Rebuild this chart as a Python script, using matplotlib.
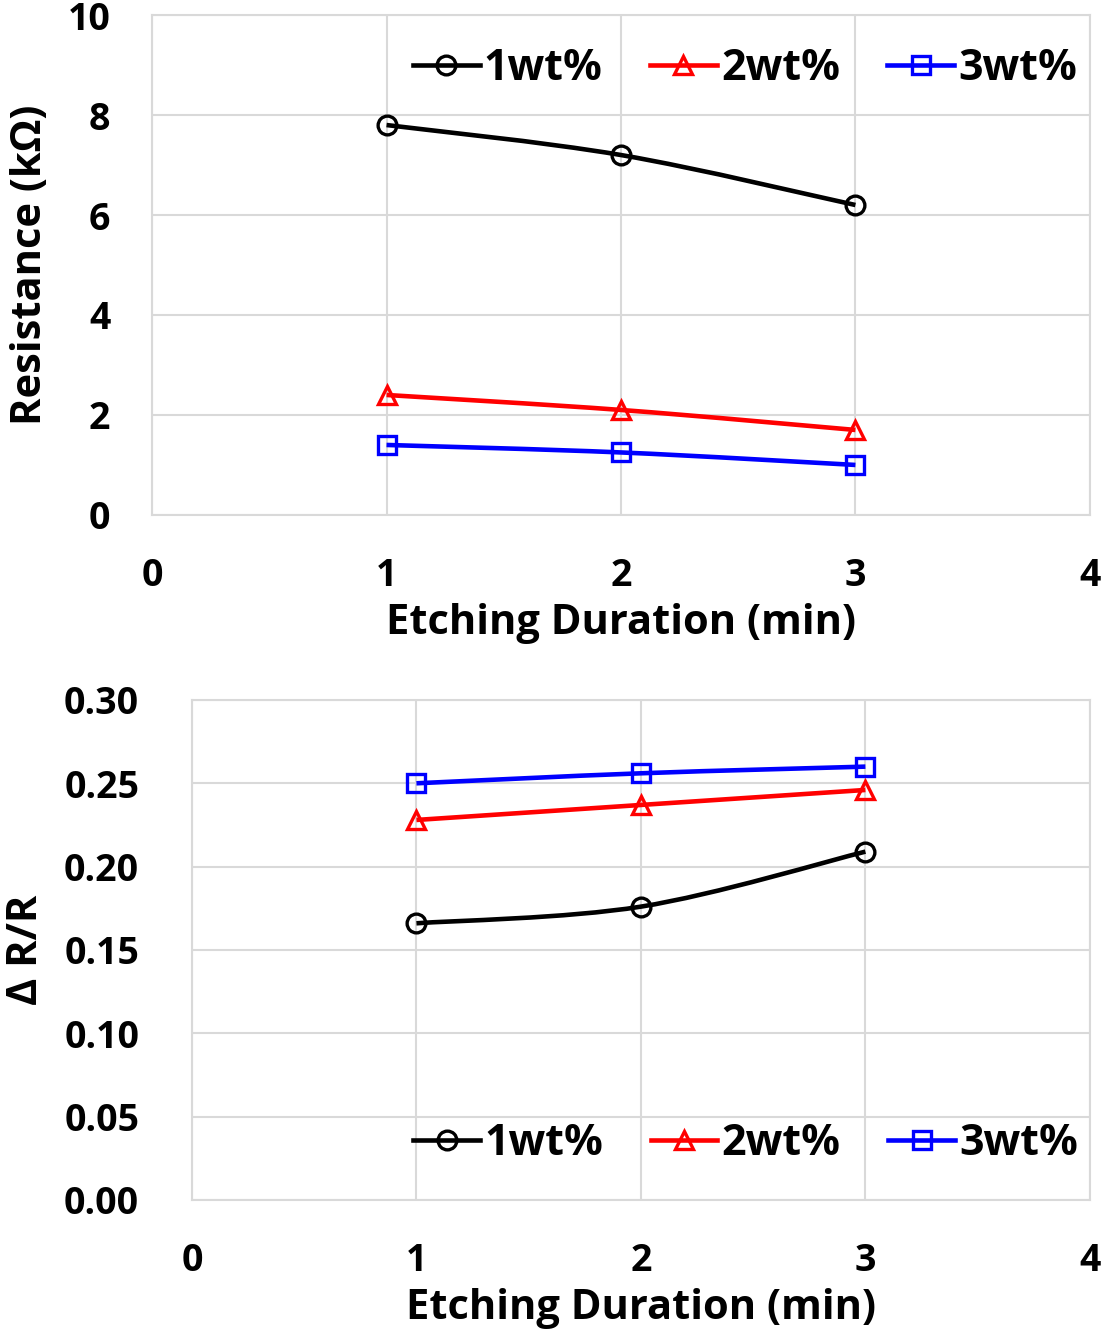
import matplotlib.pyplot as plt
from matplotlib.path import Path
from matplotlib.patches import PathPatch
from matplotlib.lines import Line2D
import numpy as np

# Etching duration vs resistance / sensitivity

duration = [1, 2, 3]
labels = ["1wt%", "2wt%", "3wt%"]

resistance_1wt = [7.8, 7.2, 6.2]
resistance_2wt = [2.4, 2.1, 1.7]
resistance_3wt = [1.4, 1.25, 1.0]

dr_1wt = [0.166, 0.176, 0.209]
dr_2wt = [0.228, 0.237, 0.246]
dr_3wt = [0.250, 0.256, 0.260]

x_ticks = [0, 1, 2, 3, 4]
res_ticks = [0, 2, 4, 6, 8, 10]
dr_ticks = [0.00, 0.05, 0.10, 0.15, 0.20, 0.25, 0.30]

COLORS = ["black", "#ff0000", "#0000ff"]
MARKERS = ["o", "^", "s"]
GRID = "#d9d9d9"
LW = 3.3
FONT = "Open Sans"

plt.rcParams["font.family"] = [FONT, "DejaVu Sans"]
plt.rcParams["font.weight"] = "bold"


def smooth_path(x, y):
    # Excel-style smoothed line: cubic Bezier through the points
    pts = np.column_stack([x, y]).astype(float)
    verts = [pts[0]]
    codes = [Path.MOVETO]
    n = len(pts)
    for i in range(n - 1):
        p0 = pts[i - 1] if i > 0 else pts[i]
        p1 = pts[i]
        p2 = pts[i + 1]
        p3 = pts[i + 2] if i + 2 < n else pts[i + 1]
        c1 = p1 + (p2 - p0) / 6.0
        c2 = p2 - (p3 - p1) / 6.0
        verts += [c1, c2, p2]
        codes += [Path.CURVE4] * 3
    return Path(verts, codes)


def draw_panel(ax, series, yticks, ylabel, ylim, yfmt, legend_anchor, ypad):
    for ys, c, m in zip(series, COLORS, MARKERS):
        ax.add_patch(PathPatch(smooth_path(duration, ys), fill=False,
                               edgecolor=c, linewidth=LW, zorder=3))
        ax.plot(duration, ys, linestyle="none", marker=m, markersize=13.5,
                markerfacecolor="none", markeredgecolor=c,
                markeredgewidth=2.4, zorder=4)
    ax.set_xlim(0, 4)
    ax.set_ylim(*ylim)
    ax.set_xticks(x_ticks)
    ax.set_yticks(yticks)
    ax.set_yticklabels([yfmt.format(v) for v in yticks])
    ax.grid(True, color=GRID, linewidth=1.5)
    ax.set_axisbelow(True)
    for s in ax.spines.values():
        s.set_color(GRID)
        s.set_linewidth(1.5)
    ax.tick_params(length=0, labelsize=27)
    ax.tick_params(axis="y", pad=ypad)
    ax.tick_params(axis="x", pad=30)
    for t in ax.get_xticklabels() + ax.get_yticklabels():
        t.set_fontweight("bold")
    ax.set_xlabel("Etching Duration (min)", fontsize=30, fontweight="bold",
                  labelpad=6)
    ax.set_ylabel(ylabel, fontsize=30, fontweight="bold", labelpad=12)

    handles = [Line2D([], [], color=c, linewidth=LW, marker=m, markersize=13.5,
                      markerfacecolor="none", markeredgecolor=c,
                      markeredgewidth=2.4)
               for c, m in zip(COLORS, MARKERS)]
    ax.legend(handles, labels, ncol=3, frameon=False,
              loc="center right", bbox_to_anchor=legend_anchor,
              handlelength=1.55, handletextpad=0.1, columnspacing=1.1,
              prop={"family": FONT, "weight": "bold", "size": 31})


fig = plt.figure(figsize=(11.02, 13.33), dpi=100)
ax1 = fig.add_axes([0.138, 0.6137, 0.851, 0.3750])
ax2 = fig.add_axes([0.1742, 0.0998, 0.8148, 0.3751])

draw_panel(ax1, [resistance_1wt, resistance_2wt, resistance_3wt], res_ticks,
           "Resistance (kΩ)", (0, 10), "{:g}", (1.028, 0.893), 30)
draw_panel(ax2, [dr_1wt, dr_2wt, dr_3wt], dr_ticks,
           "Δ R/R", (0, 0.30), "{:.2f}", (1.030, 0.113), 38)

fig.savefig("out.png", dpi=100)
